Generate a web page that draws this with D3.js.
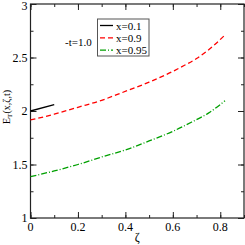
<!DOCTYPE html>
<html>
<head>
<meta charset="utf-8">
<script src="https://d3js.org/d3.v7.min.js"></script>
<style>
  body { margin: 0; background: #fff; }
  text { font-family: "Liberation Serif", "DejaVu Serif", serif; }
</style>
</head>
<body>
<div id="chart"></div>
<script>
// values
var zeta1 = [0, 0.1];
var ex1 = [2.0, 2.06];

var zeta2 = [0, 0.1, 0.2, 0.3, 0.385, 0.5, 0.6, 0.63, 0.7, 0.75, 0.815];
var ex2 = [1.916, 1.97, 2.035, 2.10, 2.171, 2.27, 2.37, 2.405, 2.49, 2.57, 2.70];

var zeta3 = [0, 0.1, 0.2, 0.3, 0.42, 0.5, 0.6, 0.68, 0.75, 0.82];
var ex3 = [1.386, 1.44, 1.50, 1.57, 1.651, 1.72, 1.81, 1.897, 1.98, 2.096];

var legendLabels = ["x=0.1", "x=0.9", "x=0.95"];
var xTicks = [0, 0.2, 0.4, 0.6, 0.8];
var yTicks = [1, 1.5, 2, 2.5, 3];

var W = 245, H = 245;
var L = 30.5, R = 244, T = 4, B = 218;

var svg = d3.select("#chart").append("svg")
  .attr("width", W).attr("height", H);

var x = d3.scaleLinear().domain([0, 0.9]).range([L, R]);
var y = d3.scaleLinear().domain([1, 3]).range([B, T]);

var minorX = d3.range(0, 0.91, 0.1);
var minorY = d3.range(1, 3.01, 0.25);

// ticks, all inward, on all four sides
function tickSet(axis, vals, len) {
  return axis.tickValues(vals).tickSize(len).tickFormat("");
}
var gx = svg.append("g").attr("transform", "translate(0," + B + ")");
gx.call(tickSet(d3.axisTop(x), minorX, 3));
gx.append("g").call(tickSet(d3.axisTop(x), xTicks, 6));
var gxt = svg.append("g").attr("transform", "translate(0," + T + ")");
gxt.call(tickSet(d3.axisBottom(x), minorX, 3));
gxt.append("g").call(tickSet(d3.axisBottom(x), xTicks, 6));
var gy = svg.append("g").attr("transform", "translate(" + L + ",0)");
gy.call(tickSet(d3.axisRight(y), minorY, 3));
gy.append("g").call(tickSet(d3.axisRight(y), yTicks, 6));
var gyr = svg.append("g").attr("transform", "translate(" + R + ",0)");
gyr.call(tickSet(d3.axisLeft(y), minorY, 3));
gyr.append("g").call(tickSet(d3.axisLeft(y), yTicks, 6));
svg.selectAll(".domain").remove();
svg.selectAll(".tick line").attr("stroke", "#222").attr("stroke-width", 1);

// tick labels
svg.selectAll(".xl").data(xTicks).enter().append("text")
  .attr("x", function(d) { return x(d); })
  .attr("y", B + 13)
  .attr("text-anchor", "middle")
  .attr("font-size", 12)
  .text(function(d) { return d3.format("")(d); });
svg.selectAll(".yl").data(yTicks).enter().append("text")
  .attr("x", L - 3)
  .attr("y", function(d) { return Math.max(y(d) + 4, 10); })
  .attr("text-anchor", "end")
  .attr("font-size", 12)
  .text(function(d) { return d; });

// frame
svg.append("rect")
  .attr("x", L).attr("y", T)
  .attr("width", R - L).attr("height", B - T)
  .attr("fill", "none").attr("stroke", "#222").attr("stroke-width", 1.2);

var line = d3.line()
  .x(function(d) { return x(d[0]); })
  .y(function(d) { return y(d[1]); })
  .curve(d3.curveMonotoneX);

var series = [
  { z: zeta1, v: ex1, color: "#000000", dash: null },
  { z: zeta2, v: ex2, color: "#ff0000", dash: "5,3" },
  { z: zeta3, v: ex3, color: "#00a000", dash: "6,2,1,2" }
];

series.forEach(function(s) {
  svg.append("path")
    .datum(d3.zip(s.z, s.v))
    .attr("d", line)
    .attr("fill", "none")
    .attr("stroke", s.color)
    .attr("stroke-width", 1.3)
    .attr("stroke-dasharray", s.dash);
});

// annotation
svg.append("text").attr("x", 65).attr("y", 46)
  .attr("font-size", 11).text("-t=1.0");

// legend
var lg = svg.append("g");
lg.append("rect").attr("x", 97.5).attr("y", 19)
  .attr("width", 51.5).attr("height", 37)
  .attr("fill", "#fff").attr("stroke", "#555").attr("stroke-width", 1);
series.forEach(function(s, i) {
  var ly = 25.5 + i * 12.3;
  lg.append("line")
    .attr("x1", 100).attr("x2", 113).attr("y1", ly).attr("y2", ly)
    .attr("stroke", s.color).attr("stroke-width", 1.3)
    .attr("stroke-dasharray", s.dash);
  lg.append("text").attr("x", 116).attr("y", ly + 4)
    .attr("font-size", 11).text(legendLabels[i]);
});

// axis titles
svg.append("text")
  .attr("x", x(0.45)).attr("y", 241)
  .attr("text-anchor", "middle")
  .attr("font-size", 12)
  .text("ζ");
var yt = svg.append("text")
  .attr("transform", "translate(10," + (y(2) - 4) + ") rotate(-90)")
  .attr("text-anchor", "middle")
  .attr("font-size", 10);
yt.append("tspan").text("E");
yt.append("tspan").attr("font-size", 7).attr("dy", 2).text("T");
yt.append("tspan").attr("dy", -2).text("(x,ζ,t)");
</script>
</body>
</html>
